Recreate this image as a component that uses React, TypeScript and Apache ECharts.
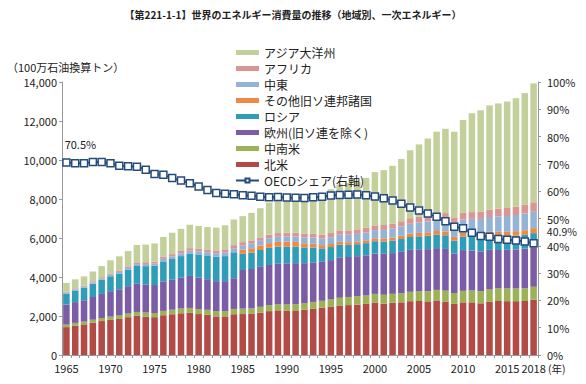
import React, { useEffect, useRef } from "react";
import * as echarts from "echarts";

const years = [
  "1965","1966","1967","1968","1969","1970","1971","1972","1973","1974",
  "1975","1976","1977","1978","1979","1980","1981","1982","1983","1984",
  "1985","1986","1987","1988","1989","1990","1991","1992","1993","1994",
  "1995","1996","1997","1998","1999","2000","2001","2002","2003","2004",
  "2005","2006","2007","2008","2009","2010","2011","2012","2013","2014",
  "2015","2016","2017","2018",
];

const northAmerica = [
  1430,1510,1570,1660,1740,1800,1850,1940,2010,1970,
  1940,2040,2090,2140,2160,2100,2060,1980,1980,2090,
  2100,2110,2170,2250,2290,2280,2290,2330,2380,2420,
  2470,2540,2560,2580,2620,2690,2640,2680,2700,2760,
  2770,2750,2800,2740,2620,2700,2700,2650,2730,2770,
  2760,2760,2770,2840,
];
const latinAmerica = [
  130,136,142,150,158,168,176,186,198,206,
  212,222,232,242,254,258,258,262,262,272,
  278,290,300,306,310,312,320,328,342,358,
  376,396,416,428,432,444,450,456,462,482,
  500,518,540,560,556,590,608,628,642,654,
  656,652,654,660,
];
const europe = [
  1026,1065,1095,1165,1235,1305,1345,1405,1465,1445,
  1435,1515,1535,1580,1640,1610,1570,1545,1545,1575,
  1980,2010,2050,2060,2080,2110,2100,2050,2030,2000,
  2020,2070,2050,2060,2060,2070,2100,2090,2130,2150,
  2150,2160,2140,2140,2030,2090,2050,2040,2020,1960,
  1980,2000,2030,2030,
];
const russia = [
  564,600,640,680,720,765,805,845,890,935,
  985,1025,1065,1110,1150,1190,1220,1250,1285,1330,
  830,845,865,880,875,860,850,810,760,690,
  670,650,620,615,625,630,635,640,655,660,
  665,685,690,700,665,690,710,715,705,710,
  695,705,705,720,
];
const otherFSU = [
  0,0,0,0,0,0,0,0,0,0,
  0,0,0,0,0,0,0,0,0,0,
  215,222,230,238,245,250,240,215,190,165,
  155,148,140,140,145,150,155,160,165,172,
  175,182,188,195,185,195,210,215,220,225,
  228,232,240,255,
];
const middleEast = [
  48,52,56,62,68,75,82,90,100,108,
  115,128,138,145,150,155,165,180,195,210,
  220,230,240,255,265,270,275,295,315,335,
  350,365,380,390,405,420,435,455,475,505,
  530,560,585,615,640,680,705,730,760,785,
  810,830,860,870,
];
const africa = [
  55,58,60,64,68,72,77,82,88,93,
  98,105,112,118,125,132,142,148,152,158,
  165,170,175,182,188,192,195,198,202,208,
  214,220,226,232,238,244,250,256,270,285,
  292,298,312,328,332,345,345,370,385,400,
  410,420,440,455,
];
const asiaOceania = [
  447,459,467,499,571,675,725,782,889,903,
  935,1015,1098,1135,1201,1175,1145,1165,1231,1315,
  1332,1413,1500,1649,1717,1826,1880,1954,2031,2144,
  2245,2361,2428,2435,2555,2732,2815,2963,3193,3486,
  3718,3947,4195,4322,4422,4760,5072,5202,5338,5396,
  5461,5571,5731,6100,
];
const oecdShare = [
  70.5,70.2,70.2,70.7,70.7,70.2,69.3,69.1,69.0,67.9,
  66.3,66.0,64.8,63.9,62.9,61.7,60.4,59.3,59.1,58.9,
  58.5,58.3,58.0,57.8,57.9,57.7,57.6,57.5,57.8,58.0,
  58.4,58.6,58.7,58.8,58.5,58.1,57.4,56.6,55.4,54.0,
  52.9,51.8,50.6,49.0,47.0,46.4,44.8,43.6,43.3,42.5,
  42.2,41.9,41.6,40.9,
];

const leftTicks = [0, 2000, 4000, 6000, 8000, 10000, 12000, 14000];
const rightTicks = [0, 10, 20, 30, 40, 50, 60, 70, 80, 90, 100];

const FONT = "'Noto Sans CJK JP', 'Noto Sans', sans-serif";

const names = {
  asia: "アジア大洋州",
  africa: "アフリカ",
  me: "中東",
  fsu: "その他旧ソ連邦諸国",
  russia: "ロシア",
  europe: "欧州(旧ソ連を除く)",
  latin: "中南米",
  na: "北米",
  oecd: "OECDシェア(右軸)",
};

export default function App() {
  const ref = useRef<HTMLDivElement>(null);
  useEffect(() => {
    if (!ref.current) return;
    document.body.style.margin = "0";
    const chart = echarts.init(ref.current, undefined, { renderer: "svg" });
    const barSeries = (name: string, data: number[], color: string) => ({
      name,
      type: "bar",
      stack: "total",
      data,
      barCategoryGap: "26%",
      itemStyle: { color },
      emphasis: { disabled: true },
    });
    const lastIdx = years.length - 1;
    chart.setOption({
      animation: false,
      textStyle: { fontFamily: FONT },
      title: {
        text: "【第221-1-1】世界のエネルギー消費量の推移（地域別、一次エネルギー）",
        left: "center",
        top: 4,
        textStyle: { fontSize: 10, fontWeight: "bold", color: "#222", fontFamily: FONT },
      },
      legend: {
        orient: "vertical",
        left: 230,
        top: 41,
        itemWidth: 23,
        itemHeight: 5,
        itemGap: 3,
        textStyle: { fontSize: 12, color: "#222", fontFamily: FONT, lineHeight: 13 },
        data: [
          { name: names.asia, icon: "rect" },
          { name: names.africa, icon: "rect" },
          { name: names.me, icon: "rect" },
          { name: names.fsu, icon: "rect" },
          { name: names.russia, icon: "rect" },
          { name: names.europe, icon: "rect" },
          { name: names.latin, icon: "rect" },
          { name: names.na, icon: "rect" },
          { name: names.oecd },
        ],
      },
      grid: { left: 62, right: 48, top: 82, bottom: 29, containLabel: false },
      xAxis: {
        type: "category",
        data: years,
        boundaryGap: true,
        axisLine: { lineStyle: { color: "#999" } },
        axisTick: { show: true, interval: 0, length: 3, lineStyle: { color: "#999" } },
        axisLabel: {
          interval: (i: number) => i % 5 === 0 || i === lastIdx,
          fontSize: 11,
          lineHeight: 11,
          color: "#222",
          margin: 7,
          fontFamily: FONT,
        },
      },
      yAxis: [
        {
          type: "value",
          min: leftTicks[0],
          max: leftTicks[leftTicks.length - 1],
          interval: 2000,
          splitLine: { show: false },
          axisLine: { show: true, lineStyle: { color: "#999" } },
          axisTick: { show: true, length: 3, lineStyle: { color: "#999" } },
          axisLabel: {
            fontSize: 11,
            lineHeight: 11,
            color: "#222",
            margin: 5,
            fontFamily: FONT,
            formatter: (v: number) => v.toLocaleString("en-US"),
          },
        },
        {
          type: "value",
          min: rightTicks[0],
          max: rightTicks[rightTicks.length - 1],
          interval: 10,
          splitLine: { show: false },
          axisLine: { show: true, lineStyle: { color: "#999" } },
          axisTick: { show: true, length: 3, lineStyle: { color: "#999" } },
          axisLabel: {
            fontSize: 11,
            lineHeight: 11,
            color: "#222",
            margin: 9,
            fontFamily: FONT,
            formatter: "{value}%",
          },
        },
      ],
      series: [
        barSeries(names.na, northAmerica, "#B24A46"),
        barSeries(names.latin, latinAmerica, "#9BB255"),
        barSeries(names.europe, europe, "#7B5CA6"),
        barSeries(names.russia, russia, "#2F9CB8"),
        barSeries(names.fsu, otherFSU, "#EE8A45"),
        barSeries(names.me, middleEast, "#95B3D7"),
        barSeries(names.africa, africa, "#D99694"),
        barSeries(names.asia, asiaOceania, "#C3D09B"),
        {
          name: names.oecd,
          type: "line",
          yAxisIndex: 1,
          data: oecdShare.map((v, i) => {
            if (i === 0)
              return {
                value: v,
                label: {
                  show: true,
                  position: "top",
                  offset: [14, -4],
                  formatter: "{c}%",
                  fontSize: 11,
                  color: "#222",
                  fontFamily: FONT,
                },
              };
            if (i === lastIdx)
              return {
                value: v,
                label: {
                  show: true,
                  position: "right",
                  distance: 9,
                  offset: [0, -12],
                  formatter: "{c}%",
                  fontSize: 10.5,
                  lineHeight: 10,
                  color: "#222",
                  fontFamily: FONT,
                },
              };
            return v;
          }),
          symbol: "rect",
          symbolSize: 7,
          showAllSymbol: true,
          lineStyle: { color: "#254A7C", width: 2 },
          itemStyle: { color: "#FFFFFF", borderColor: "#254A7C", borderWidth: 1.5 },
          emphasis: { disabled: true },
          z: 5,
        },
      ],
      graphic: [
        {
          type: "text",
          left: 7,
          top: 61,
          style: { text: "（100万石油換算トン）", fontSize: 11, fill: "#222", fontFamily: FONT },
        },
        {
          type: "text",
          left: 548,
          top: 363,
          style: { text: "(年)", fontSize: 10.5, fill: "#222", fontFamily: FONT },
        },
      ],
    });
    return () => chart.dispose();
  }, []);
  return <div ref={ref} style={{ width: 586, height: 384 }} />;
}
